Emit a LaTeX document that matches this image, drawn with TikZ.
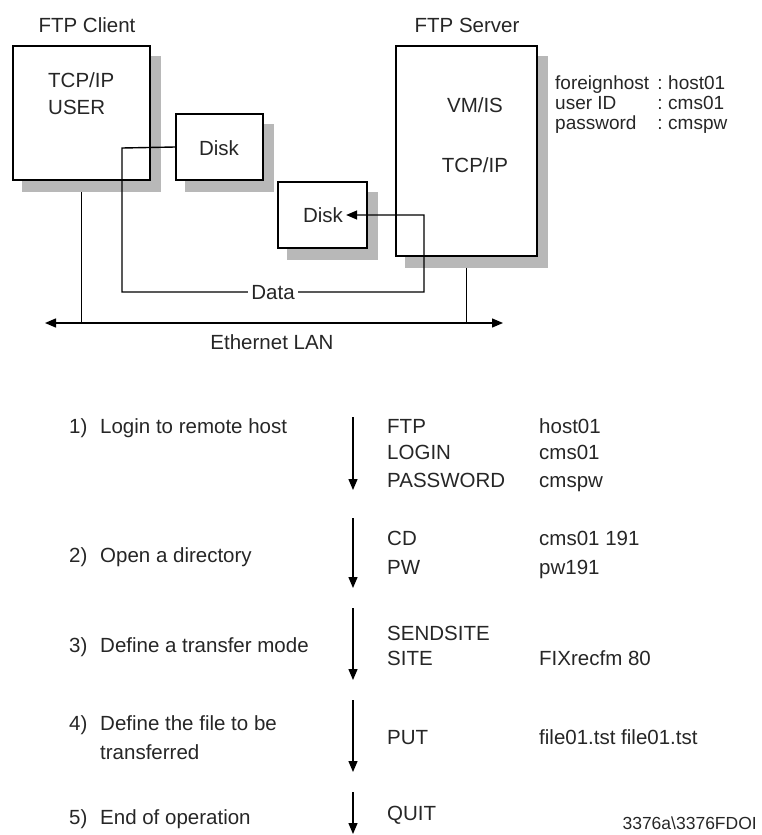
\documentclass[tikz,border=0pt]{standalone}
\usepackage{fontspec}
\setmainfont{Liberation Sans}
\usetikzlibrary{arrows.meta,calc,backgrounds}
\begin{document}
\begin{tikzpicture}[x=1pt,y=-1pt,
  txt/.style={inner sep=0pt, text=black!85, text height=14.5pt, text depth=0pt, font=\fontsize{20.5}{24}\selectfont},
  small/.style={txt, font=\fontsize{19}{22}\selectfont, text height=13.5pt},
  box/.style={draw=black, line width=1.5pt, fill=white, inner sep=0pt},
  shade/.style={fill=black!28, draw=none},
  conn/.style={line width=1.4pt, draw=black},
  tip/.style={-{Triangle[length=11pt,width=9pt]}},
  tips/.style={{Triangle[length=11pt,width=9pt]}-{Triangle[length=11pt,width=9pt]}},
]
\useasboundingbox (0,0) rectangle (761,835);

% ---------- boxes ----------
\node[box, minimum width=137pt, minimum height=134pt] (client) at (81.5,113) {};
\node[box, minimum width=87pt, minimum height=66pt] (disk1) at (219.5,147) {};
\node[box, minimum width=89pt, minimum height=66pt] (disk2) at (322.5,215) {};
\node[box, minimum width=141pt, minimum height=210pt] (server) at (466.5,151) {};

\begin{scope}[on background layer]
  \foreach \b in {client,disk1,disk2,server}
    \fill[shade] ($(\b.north west)+(10,11)$) rectangle ($(\b.south east)+(10,11)$);
\end{scope}

% ---------- labels ----------
\node[txt] (clientlbl) at (87,25) {FTP Client};
\node[txt] (serverlbl) at (467,25) {FTP Server};
\node[txt, anchor=west] (tcp1) at (48,80) {TCP/IP};
\node[txt, anchor=west] (user) at (48,107) {USER};
\node[txt] (d1txt) at (219,148) {Disk};
\node[txt] (d2txt) at (323,215) {Disk};
\node[txt] (vmis) at (475,105) {VM/IS};
\node[txt] (tcp2) at (475,165) {TCP/IP};

\node[small, anchor=west] (k1) at (555,83) {foreignhost};
\node[small, anchor=west] (k2) at (555,103) {user ID};
\node[small, anchor=west] (k3) at (555,123) {password};
\node[small] (c1) at (660,83) {:};
\node[small] (c2) at (660,103) {:};
\node[small] (c3) at (660,123) {:};
\node[small, anchor=west] (v1) at (668,83) {host01};
\node[small, anchor=west] (v2) at (668,103) {cms01};
\node[small, anchor=west] (v3) at (668,123) {cmspw};

% ---------- data path ----------
\coordinate (p1) at (122,148);
\coordinate (p2) at (122,292);
\coordinate (p3) at (424,292);
\coordinate (p4) at (424,215);
\draw[conn, tip] (disk1.west) -- (p1) -- (p2)
  -- node[txt, fill=white, inner xsep=3pt] (data) {Data} (p3) -- (p4) -- ([xshift=3pt]d2txt.east);

% ---------- ethernet ----------
\coordinate (lanL) at (45,323);
\coordinate (lanR) at (503,323);
\draw[conn, tips] (lanL) -- (lanR);
\draw[conn] ($(client.south)+(0,11)$) -- (client.south |- lanL);
\draw[conn] ($(server.south)+(0,11)$) -- (server.south |- lanL);
\node[txt] (lan) at (272,342) {Ethernet LAN};

% ---------- steps ----------
\node[txt, anchor=west] (n1) at (69,426) {1)};
\node[txt, anchor=west] (t1) at (100,426) {Login to remote host};
\node[txt, anchor=west] (n2) at (69,555) {2)};
\node[txt, anchor=west] (t2) at (100,555) {Open a directory};
\node[txt, anchor=west] (n3) at (69,645) {3)};
\node[txt, anchor=west] (t3) at (100,645) {Define a transfer mode};
\node[txt, anchor=west] (n4) at (69,723) {4)};
\node[txt, anchor=west] (t4) at (100,723) {Define the file to be};
\node[txt, anchor=west] (t4b) at (100,752) {transferred};
\node[txt, anchor=west] (n5) at (69,817) {5)};
\node[txt, anchor=west] (t5) at (100,817) {End of operation};

% arrows
\foreach \i/\a/\b in {1/417/490, 2/518/588, 3/608/680, 4/700/772, 5/792/834}{
  \coordinate (a\i s) at (353,\a);
  \coordinate (a\i e) at (353,\b);
  \draw[conn, tip] (a\i s) -- (a\i e);
}

% commands
\node[txt, anchor=west] (c11) at (387,426) {FTP};
\node[txt, anchor=west] (c12) at (387,452) {LOGIN};
\node[txt, anchor=west] (c13) at (387,480) {PASSWORD};
\node[txt, anchor=west] (c21) at (387,538) {CD};
\node[txt, anchor=west] (c22) at (387,567) {PW};
\node[txt, anchor=west] (c31) at (387,633) {SENDSITE};
\node[txt, anchor=west] (c32) at (387,658) {SITE};
\node[txt, anchor=west] (c41) at (387,737) {PUT};
\node[txt, anchor=west] (c51) at (387,813) {QUIT};

\node[txt, anchor=west] (v11) at (539,426) {host01};
\node[txt, anchor=west] (v12) at (539,452) {cms01};
\node[txt, anchor=west] (v13) at (539,480) {cmspw};
\node[txt, anchor=west] (v21) at (539,538) {cms01 191};
\node[txt, anchor=west] (v22) at (539,567) {pw191};
\node[txt, anchor=west] (v32) at (539,658) {FIXrecfm 80};
\node[txt, anchor=west] (v41) at (539,737) {file01.tst file01.tst};

\node[txt, anchor=east, font=\fontsize{17.5}{20}\selectfont, text height=12.5pt] (fig) at (757,823) {3376a\textbackslash 3376FDOI};
\end{tikzpicture}
\end{document}
